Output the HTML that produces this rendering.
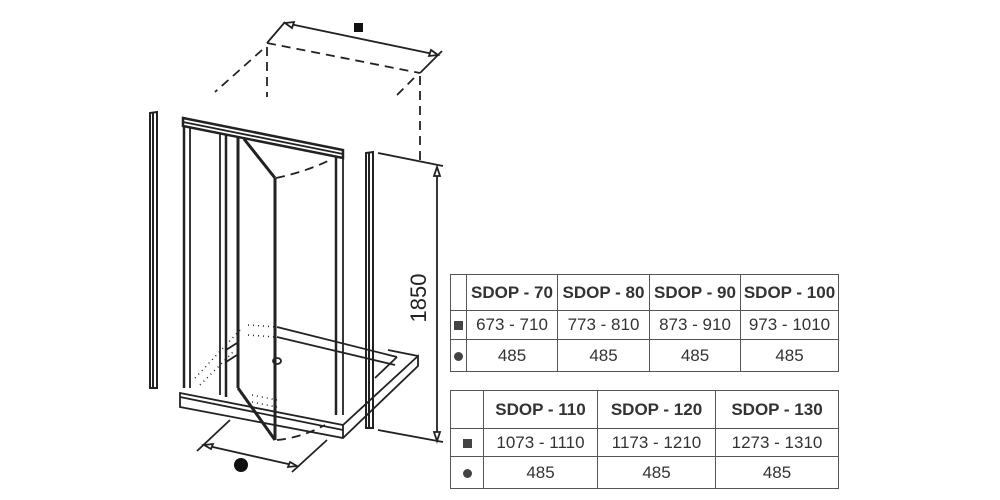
<!DOCTYPE html>
<html><head><style>
body{margin:0;background:#fff;width:1000px;height:500px;overflow:hidden;position:relative;font-family:"Liberation Sans",Arial,sans-serif}
svg{position:absolute;left:0;top:0}
table{position:absolute;border-collapse:collapse;color:#333}
td{border:1.5px solid #555;text-align:center;padding:0;font-size:17px}
.h td{font-weight:bold;font-size:17px}
.sq{display:inline-block;width:9px;height:9px;background:#444}
.ci{display:inline-block;width:9px;height:9px;border-radius:50%;background:#444}
</style></head><body>
<svg width="1000" height="500" viewBox="0 0 1000 500">
<g stroke="#222" fill="none" stroke-width="1.8">
<line x1="285" y1="23" x2="438" y2="55"/>
<line x1="267" y1="43" x2="285" y2="22"/>
<line x1="420" y1="73" x2="442" y2="51"/>
<path d="M285,23 l9,-1 l-2,6 z M438,55 l-9,1 l2,-6 z" fill="#fff"/>
<g stroke-dasharray="9,6">
<line x1="267" y1="43" x2="420" y2="73"/>
<line x1="267" y1="47" x2="267" y2="97"/>
<line x1="262" y1="50" x2="215" y2="92"/>
<line x1="420" y1="76" x2="420" y2="160"/>
<line x1="414" y1="78" x2="396" y2="96"/>
<path d="M276,178 Q305,172 330,160"/>
<path d="M277,440 Q300,438 325,425"/>
</g>
<path d="M150,113 L150,388 L157,388 L157,112 Z M153,112 L153,388" stroke-width="2"/>
<path d="M366,153 L366,428 L373,428 L373,152 Z M369,152 L369,428" stroke-width="2"/>
<path d="M183,118 L343,150 L343,158 L183,126 Z" stroke-width="2.5"/>
<line x1="183" y1="122" x2="343" y2="154"/>
<line x1="184" y1="126" x2="184" y2="388" stroke-width="2.5"/>
<line x1="190" y1="127" x2="190" y2="388"/>
<line x1="220" y1="133" x2="220" y2="395"/>
<line x1="226" y1="134" x2="226" y2="397" stroke-width="2.5"/>
<line x1="238" y1="136" x2="238" y2="388" stroke-width="3"/>
<line x1="275" y1="178" x2="275" y2="440" stroke-width="3"/>
<line x1="244" y1="139" x2="275" y2="178" stroke-width="3"/>
<line x1="238" y1="388" x2="275" y2="440" stroke-width="3"/>
<line x1="336" y1="157" x2="336" y2="415" stroke-width="2.5"/>
<line x1="343" y1="157" x2="343" y2="415"/>
<path d="M180,393 L343,425 L418,356 L418,366 L343,438 L180,407 Z"/>
<line x1="343" y1="425" x2="343" y2="438"/>
<line x1="180" y1="397" x2="343" y2="430"/>
<line x1="277" y1="327" x2="397" y2="357"/>
<line x1="277" y1="337" x2="395" y2="365"/>
<line x1="397" y1="357" x2="375" y2="378"/>
<line x1="418" y1="356" x2="388" y2="350"/>
<line x1="226" y1="350" x2="237" y2="343"/>
<line x1="226" y1="362" x2="237" y2="355"/>
<ellipse cx="277" cy="361" rx="4" ry="3"/>
<g stroke-dasharray="1,4" stroke-width="1.5">
<path d="M248,325 L277,327 M248,335 L275,337 M195,378 L240,330 M200,385 L235,350 M252,395 L277,400 M252,402 L277,407"/>
</g>
<line x1="437" y1="168" x2="437" y2="440"/>
<line x1="378" y1="153" x2="443" y2="166"/>
<line x1="378" y1="430" x2="443" y2="442"/>
<path d="M437,167 l-3,9 l6,0 z M437,441 l-3,-9 l6,0 z" fill="#fff"/>
<line x1="204" y1="445" x2="297" y2="466"/>
<line x1="197" y1="451" x2="230" y2="420"/>
<line x1="292" y1="472" x2="327" y2="440"/>
<path d="M204,445 l9,-1 l-2,5 z M297,466 l-9,1 l2,-5 z" fill="#fff"/>
</g>
<rect x="354" y="23" width="9" height="9" fill="#111"/>
<circle cx="241" cy="465" r="7" fill="#111"/>
<text x="0" y="0" transform="translate(426,298) rotate(-90)" text-anchor="middle" font-family="Liberation Sans" font-size="22" fill="#222">1850</text>
</svg>
<table style="left:450px;top:274px;width:389px">
<tr class="h" style="height:36px"><td style="width:15px"></td><td style="width:90px">SDOP - 70</td><td style="width:91px">SDOP - 80</td><td style="width:90px">SDOP - 90</td><td>SDOP - 100</td></tr>
<tr style="height:29px"><td><span class="sq"></span></td><td>673 - 710</td><td>773 - 810</td><td>873 - 910</td><td>973 - 1010</td></tr>
<tr style="height:32px"><td><span class="ci"></span></td><td>485</td><td>485</td><td>485</td><td>485</td></tr>
</table>
<table style="left:450px;top:390px;width:389px">
<tr class="h" style="height:38px"><td style="width:32px"></td><td style="width:113px">SDOP - 110</td><td style="width:117px">SDOP - 120</td><td>SDOP - 130</td></tr>
<tr style="height:28px"><td><span class="sq"></span></td><td>1073 - 1110</td><td>1173 - 1210</td><td>1273 - 1310</td></tr>
<tr style="height:32px"><td><span class="ci"></span></td><td>485</td><td>485</td><td>485</td></tr>
</table>
</body></html>
